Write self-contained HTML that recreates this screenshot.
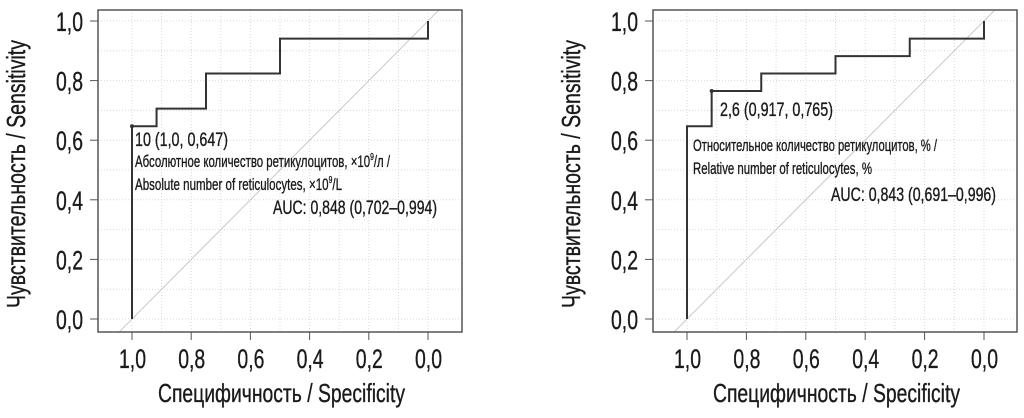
<!DOCTYPE html>
<html><head><meta charset="utf-8"><style>
html,body{margin:0;padding:0;background:#fff;}
svg text{font-family:"Liberation Sans Narrow","Liberation Sans",sans-serif;fill:#1a1a1a;stroke:#1a1a1a;stroke-width:0.35;}
</style></head><body>
<svg id="chart" width="1024" height="413" viewBox="0 0 1024 413" xmlns="http://www.w3.org/2000/svg"></svg>
<script>
const ticks = [0, 0.2, 0.4, 0.6, 0.8, 1.0];
const tickLabels = ["0,0","0,2","0,4","0,6","0,8","1,0"];
const gridVals = [0,0.1,0.2,0.3,0.4,0.5,0.6,0.7,0.8,0.9,1.0];
const specA = [1, 1, 0.917, 0.917, 0.75, 0.75, 0.5, 0.5, 0, 0];
const sensA = [0, 0.647, 0.647, 0.706, 0.706, 0.824, 0.824, 0.941, 0.941, 1];
const specB = [1, 1, 0.917, 0.917, 0.75, 0.75, 0.5, 0.5, 0.25, 0.25, 0, 0];
const sensB = [0, 0.647, 0.647, 0.765, 0.765, 0.824, 0.824, 0.882, 0.882, 0.941, 0.941, 1];
const cutA = [1.0, 0.647];
const cutB = [0.917, 0.765];

const NS = "http://www.w3.org/2000/svg";
const svg = document.getElementById('chart');
function mk(tag, attrs, parent, text){
  const e = document.createElementNS(NS, tag);
  for (const k in attrs) e.setAttribute(k, attrs[k]);
  if (text !== undefined) e.textContent = text;
  (parent||svg).appendChild(e);
  return e;
}
function panel(id, box, x1, x0, spec, sens, cut, texts){
  const g = mk('g', {});
  
  
  const sx = v => x1 + (1 - v) * (x0 - x1);
  const sy = v => 319 - v * 298;
  const cid = id + '-clip';
  const cp = mk('clipPath', {id: cid}, g);
  mk('rect', {x: box[0], y: box[1], width: box[2]-box[0], height: box[3]-box[1]}, cp);
  gridVals.forEach(v => {
    const gl = mk('line', {x1: box[0], x2: box[2], y1: sy(v), y2: sy(v), stroke: '#d8d8d8', 'stroke-width': 1, 'stroke-dasharray': '1 2'}, g);
    
    
    const gv = mk('line', {y1: box[1], y2: box[3], x1: sx(v), x2: sx(v), stroke: '#d8d8d8', 'stroke-width': 1, 'stroke-dasharray': '1 2'}, g);
    
    
  });
  const diag = mk('line', {x1: sx(1.2), y1: sy(-0.2), x2: sx(-0.2), y2: sy(1.2), stroke: '#c8c8c8', 'stroke-width': 1, 'clip-path': 'url(#' + cid + ')'}, g);
  
  
  let d = '';
  spec.forEach((s, i) => { d += (i ? 'L' : 'M') + sx(s) + ' ' + sy(sens[i]) + ' '; });
  const roc = mk('path', {d: d, fill: 'none', stroke: '#333', 'stroke-width': 2}, g);
  
  
  const pt = mk('circle', {cx: sx(cut[0]), cy: sy(cut[1]), r: 2, fill: '#333'}, g);
  
  
  const fr = mk('rect', {x: box[0], y: box[1], width: box[2]-box[0], height: box[3]-box[1], fill: 'none', stroke: '#555', 'stroke-width': 1.5}, g);
  
  
  ticks.forEach((v, i) => {
    mk('line', {x1: box[0]-8, x2: box[0], y1: sy(v), y2: sy(v), stroke: '#555', 'stroke-width': 1}, g);
    const yl = mk('text', {x: box[0]-15, y: sy(v)+10, 'font-size': 27, 'text-anchor': 'end', textLength: 27, lengthAdjust: 'spacingAndGlyphs'}, g, tickLabels[i]);
    
    
    mk('line', {x1: sx(v), x2: sx(v), y1: box[3], y2: box[3]+8, stroke: '#555', 'stroke-width': 1}, g);
    const xl = mk('text', {x: sx(v)-13, y: 368, 'font-size': 27, textLength: 27, lengthAdjust: 'spacingAndGlyphs'}, g, tickLabels[i]);
    
    
  });
  const xt = mk('text', {x: (box[0]+box[2])/2 - 124 + 2, y: 402, 'font-size': 26, textLength: 247, lengthAdjust: 'spacingAndGlyphs'}, g, 'Специфичность / Specificity');
  
  
  const yt = mk('text', {x: 0, y: 0, 'font-size': 26, textLength: 268, lengthAdjust: 'spacingAndGlyphs', transform: 'translate(' + (box[0]-73) + ',308) rotate(-90)'}, g, 'Чувствительность / Sensitivity');
  
  
  texts.forEach(t => {
    const tx = mk('text', {x: t[0], y: t[1], 'font-size': t[3], textLength: t[2], lengthAdjust: 'spacingAndGlyphs'}, g);
    
    
    tx.innerHTML = t[4];
  });
}
panel('absolute', [98, 10, 462, 332], 132, 428, specA, sensA, cutA, [
  [135, 146, 93, 19, '10 (1,0, 0,647)', 'cutoff-label'],
  [135, 167, 255, 17, 'Абсолютное количество ретикулоцитов, ×10<tspan font-size="10" dy="-7">9</tspan><tspan dy="7">/л /</tspan>', 'marker-name-ru'],
  [135, 190, 207, 17, 'Absolute number of reticulocytes, ×10<tspan font-size="10" dy="-7">9</tspan><tspan dy="7">/L</tspan>', 'marker-name-en'],
  [273, 214, 164, 19, 'AUC: 0,848 (0,702–0,994)', 'auc-label']
]);
panel('relative', [653, 10, 1017, 332], 687, 984, specB, sensB, cutB, [
  [720, 116, 113, 19, '2,6 (0,917, 0,765)', 'cutoff-label'],
  [693, 151, 244, 17, 'Относительное количество ретикулоцитов, % /', 'marker-name-ru'],
  [693, 174, 179, 17, 'Relative number of reticulocytes, %', 'marker-name-en'],
  [831, 201, 165, 19, 'AUC: 0,843 (0,691–0,996)', 'auc-label']
]);
</script>
</body></html>
